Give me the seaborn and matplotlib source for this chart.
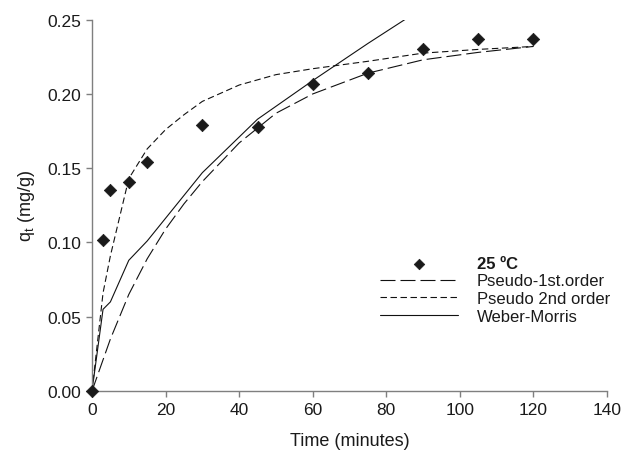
import matplotlib
matplotlib.use("Agg")
import matplotlib.pyplot as plt
import seaborn as sns
import pandas as pd
from matplotlib.ticker import FormatStrFormatter

# ---- data ----
time_obs = [0, 3, 5, 10, 15, 30, 45, 60, 75, 90, 105, 120]
q_obs = [0.000, 0.102, 0.135, 0.141, 0.154, 0.179, 0.178, 0.207, 0.214, 0.230, 0.237, 0.237]

time_fit = [0, 3, 5, 10, 15, 20, 25, 30, 40, 50, 60, 75, 90, 105, 120]
q_pfo = [0.000, 0.021, 0.035, 0.065, 0.089, 0.109, 0.126, 0.141, 0.167, 0.187, 0.200, 0.214, 0.223, 0.228, 0.232]
q_pso = [0.000, 0.066, 0.091, 0.143, 0.163, 0.176, 0.186, 0.195, 0.206, 0.213, 0.217, 0.222, 0.2275, 0.230, 0.232]

time_wm = [0, 3, 5, 10, 15, 30, 45, 60, 75, 90]
q_wm = [0.000, 0.055, 0.060, 0.088, 0.101, 0.147, 0.183, 0.209, 0.234, 0.258]

labels = ["25 ºC", "Pseudo-1st.order", "Pseudo 2nd order", "Weber-Morris"]
x_ticks = [0, 20, 40, 60, 80, 100, 120, 140]
y_ticks = [0.00, 0.05, 0.10, 0.15, 0.20, 0.25]

sns.set_theme(style="ticks")
plt.rcParams['font.family'] = ['Liberation Sans', 'DejaVu Sans']
plt.rcParams['mathtext.fontset'] = 'custom'
plt.rcParams['mathtext.rm'] = 'Liberation Sans'
plt.rcParams['mathtext.it'] = 'Liberation Sans:italic'

TXT = '#1a1a1a'
SP = '#7f7f7f'

fig = plt.figure(figsize=(6.26, 4.52), dpi=100)
ax = fig.add_axes([92/626, 1 - 392/452, (607-92)/626, (392-20.7)/452])

df_obs = pd.DataFrame({"t": time_obs, "q": q_obs})
df_fit = pd.DataFrame({"t": time_fit, "pfo": q_pfo, "pso": q_pso})
df_wm = pd.DataFrame({"t": time_wm, "q": q_wm})

lw = 0.8
sns.lineplot(data=df_fit, x="t", y="pfo", ax=ax, color='#111111', lw=lw,
             linestyle=(0, (13.5, 4.5)), label=labels[1], sort=False)
sns.lineplot(data=df_fit, x="t", y="pso", ax=ax, color='#111111', lw=lw,
             linestyle=(0, (5.8, 3.2)), label=labels[2], sort=False)
sns.lineplot(data=df_wm, x="t", y="q", ax=ax, color='#111111', lw=lw,
             linestyle='-', label=labels[3], sort=False)
sns.scatterplot(data=df_obs, x="t", y="q", ax=ax, marker='D', s=40,
                color='#1a1a1a', edgecolor='#1a1a1a', linewidth=0.5,
                clip_on=False, zorder=5, label=labels[0])

ax.set_xlim(0, 140)
ax.set_ylim(0, 0.25)
ax.set_xticks(x_ticks)
ax.set_yticks(y_ticks)
ax.yaxis.set_major_formatter(FormatStrFormatter('%.2f'))

for s in ['top', 'right']:
    ax.spines[s].set_visible(False)
for s in ['left', 'bottom']:
    ax.spines[s].set_color(SP)
    ax.spines[s].set_linewidth(1.0)
ax.tick_params(axis='both', colors=SP, labelcolor=TXT, labelsize=12.5,
               length=4, width=1.0, direction='out', pad=4)

ax.set_xlabel("Time (minutes)", fontsize=13, color=TXT, labelpad=11)
ax.set_ylabel(r"q$_\mathregular{t}$ (mg/g)", fontsize=13, color=TXT, labelpad=7)

handles, labs = ax.get_legend_handles_labels()
order = [labs.index(l) for l in labels]
leg = ax.legend([handles[i] for i in order], [labs[i] for i in order],
                loc='upper left', bbox_to_anchor=(380/626, 1 - 257/452),
                bbox_transform=fig.transFigure, frameon=False,
                fontsize=12, handlelength=4.7, handletextpad=1.1,
                labelspacing=0.15, borderpad=0, borderaxespad=0, markerscale=0.85)
for t in leg.get_texts():
    t.set_color(TXT)
leg.get_texts()[0].set_fontweight('bold')

fig.savefig("out.png", dpi=100)
